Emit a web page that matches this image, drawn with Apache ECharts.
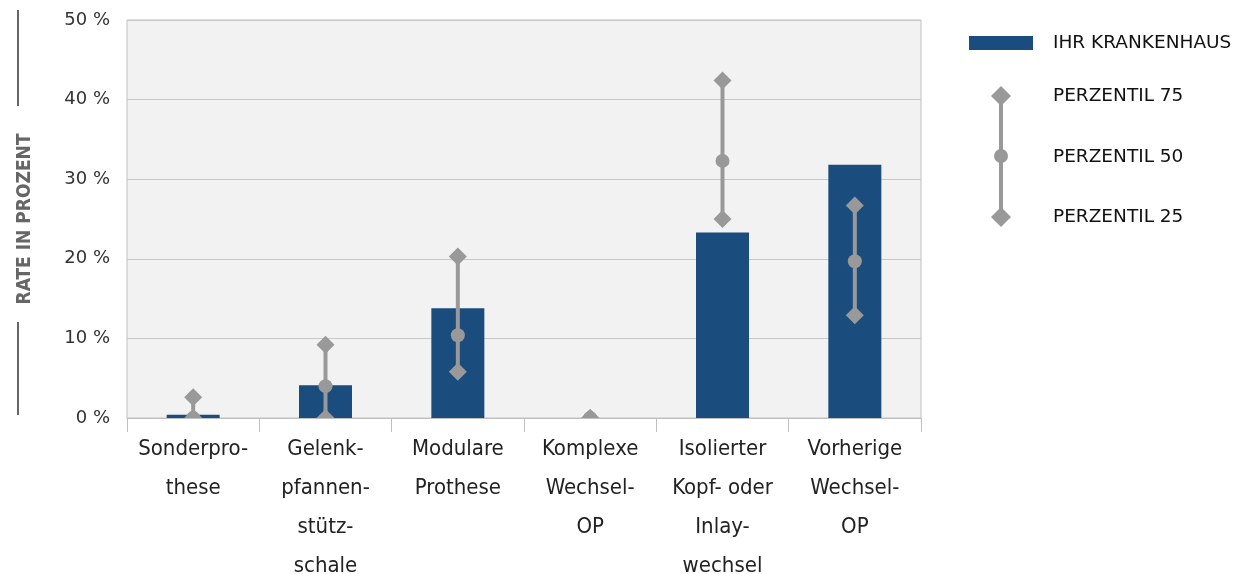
<!DOCTYPE html>
<html><head><meta charset="utf-8">
<script src="https://cdn.jsdelivr.net/npm/echarts@6/dist/echarts.min.js"></script>
<style>html,body{margin:0;padding:0;background:#fff}#c{width:1239px;height:574px}</style>
</head><body><div id="c"></div>
<script>
const categories = ['Sonderpro-\nthese','Gelenk-\npfannen-\nstütz-\nschale','Modulare\nProthese','Komplexe\nWechsel-\nOP','Isolierter\nKopf- oder\nInlay-\nwechsel','Vorherige\nWechsel-\nOP'];
const hospital = [0.4, 4.1, 13.8, 0, 23.3, 31.8];
const p75 = [2.6, 9.2, 20.3, 0, 42.4, 26.7];
const p50 = [0, 4.0, 10.4, 0, 32.3, 19.7];
const p25 = [0, 0, 5.8, 0, 25.0, 12.9];
const yTicks = [0, 10, 20, 30, 40, 50];

const GREY = '#999999';
const BLUE = '#1a4d7e';
const chart = echarts.init(document.getElementById('c'));
const pctData = categories.map((c,i)=>[i, p25[i], p50[i], p75[i]]);

function diamond(x, y, r){
  return {type:'polygon', shape:{points:[[x,y-r],[x+r,y],[x,y+r],[x-r,y]]}, style:{fill:GREY}};
}
const LF = "'DejaVu Sans',sans-serif";

chart.setOption({
  animation:false,
  grid:{left:127, right:318, top:20, bottom:156, outerBoundsMode:'none', containLabel:false, show:true, backgroundColor:'#f2f2f2', borderColor:'#c0c0c0', borderWidth:1},
  xAxis:{type:'category', data:categories,
    axisLine:{lineStyle:{color:'#c0c0c0', width:1}},
    axisTick:{show:true, length:14, lineStyle:{color:'#c0c0c0'}},
    axisLabel:{color:'#222', fontSize:22, lineHeight:39, margin:12, interval:0,
      fontFamily:"'DejaVu Sans Condensed','Liberation Sans Narrow','Roboto Condensed',sans-serif"}},
  yAxis:{type:'value', min:0, max:50, interval:10,
    name:'RATE IN PROZENT', nameLocation:'middle', nameGap:92, nameRotate:90,
    nameTextStyle:{color:'#666', fontSize:19, fontWeight:'bold', fontFamily:"'DejaVu Sans Condensed','Liberation Sans Narrow',sans-serif"},
    axisLine:{show:false}, axisTick:{show:false},
    axisLabel:{color:'#333', fontSize:18, margin:17, formatter:v=>v+' %', fontFamily:LF},
    splitLine:{lineStyle:{color:'#c8c8c8', width:1}}},
  series:[
    {type:'bar', data:hospital, barWidth:53, itemStyle:{color:BLUE}, z:2},
    {type:'custom', data:pctData, clip:true, z:3,
      renderItem:function(params, api){
        const x = api.coord([api.value(0), 0])[0];
        const y25 = api.coord([api.value(0), api.value(1)])[1];
        const y50 = api.coord([api.value(0), api.value(2)])[1];
        const y75 = api.coord([api.value(0), api.value(3)])[1];
        return {type:'group', children:[
          {type:'line', shape:{x1:x, y1:y75, x2:x, y2:y25}, style:{stroke:GREY, lineWidth:4}},
          diamond(x, y75, 9),
          diamond(x, y25, 9),
          {type:'circle', shape:{cx:x, cy:y50, r:7}, style:{fill:GREY}}
        ]};
      }}
  ],
  graphic:[
    {type:'line', shape:{x1:18, y1:10, x2:18, y2:106}, style:{stroke:'#666', lineWidth:2}},
    {type:'line', shape:{x1:18, y1:322, x2:18, y2:415}, style:{stroke:'#666', lineWidth:2}},
    {type:'rect', shape:{x:969, y:36, width:64, height:14}, style:{fill:BLUE}},
    {type:'text', x:1053, y:43, style:{text:'IHR KRANKENHAUS', fill:'#111', fontSize:18.5, fontFamily:LF, verticalAlign:'middle'}},
    {type:'line', shape:{x1:1001, y1:96, x2:1001, y2:217}, style:{stroke:GREY, lineWidth:4}},
    {type:'polygon', shape:{points:[[1001,86],[1011,96],[1001,106],[991,96]]}, style:{fill:GREY}},
    {type:'polygon', shape:{points:[[1001,207],[1011,217],[1001,227],[991,217]]}, style:{fill:GREY}},
    {type:'circle', shape:{cx:1001, cy:156, r:7}, style:{fill:GREY}},
    {type:'text', x:1053, y:96, style:{text:'PERZENTIL 75', fill:'#111', fontSize:18.5, fontFamily:LF, verticalAlign:'middle'}},
    {type:'text', x:1053, y:157, style:{text:'PERZENTIL 50', fill:'#111', fontSize:18.5, fontFamily:LF, verticalAlign:'middle'}},
    {type:'text', x:1053, y:217, style:{text:'PERZENTIL 25', fill:'#111', fontSize:18.5, fontFamily:LF, verticalAlign:'middle'}}
  ]
});
</script></body></html>
